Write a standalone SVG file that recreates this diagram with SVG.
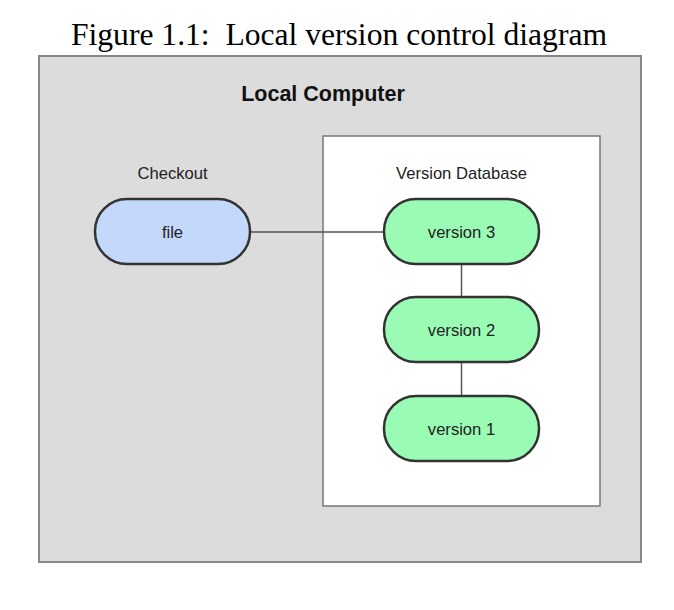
<svg xmlns="http://www.w3.org/2000/svg" width="674" height="610" viewBox="0 0 674 610">
<style>
.title{font-family:"Liberation Serif",serif;font-size:31.6px;fill:#000;text-anchor:middle;white-space:pre}
.lbl{font-family:"Liberation Sans",Arial,sans-serif;font-size:16.6px;fill:#222;text-anchor:middle}
.hdr{font-family:"Liberation Sans",Arial,sans-serif;font-size:21.5px;font-weight:bold;fill:#111;text-anchor:middle}
.node{stroke:#333;stroke-width:2.5}
.blue{fill:#c4d8fc}
.green{fill:#9afcb4}
.conn{stroke:#555;stroke-width:1.5;fill:none}
</style>
<rect width="674" height="610" fill="#fff"/>
<text class="title" x="339" y="45" xml:space="preserve">Figure 1.1:  Local version control diagram</text>
<g id="local-computer">
<rect x="39" y="56" width="602" height="506" fill="#dcdcdc" stroke="#888" stroke-width="2"/>
<text class="hdr" x="323" y="101">Local Computer</text>
</g>
<g id="version-database">
<rect x="323" y="136" width="277" height="370" fill="#fff" stroke="#777" stroke-width="1.5"/>
<text class="lbl" x="461.5" y="179">Version Database</text>
</g>
<g id="connectors">
<line class="conn" x1="250" y1="232" x2="384" y2="232"/>
<line class="conn" x1="461.5" y1="264" x2="461.5" y2="297"/>
<line class="conn" x1="461.5" y1="362" x2="461.5" y2="396"/>
</g>
<g id="checkout">
<text class="lbl" x="172.5" y="179">Checkout</text>
</g>
<g id="file">
<rect class="node blue" x="95" y="199" width="155" height="65" rx="32" ry="32"/>
<text class="lbl" x="172.5" y="238">file</text>
</g>
<g id="version3">
<rect class="node green" x="384" y="199" width="155" height="65" rx="32" ry="32"/>
<text class="lbl" x="461.5" y="238">version 3</text>
</g>
<g id="version2">
<rect class="node green" x="384" y="297" width="155" height="65" rx="32" ry="32"/>
<text class="lbl" x="461.5" y="336">version 2</text>
</g>
<g id="version1">
<rect class="node green" x="384" y="396" width="155" height="65" rx="32" ry="32"/>
<text class="lbl" x="461.5" y="435">version 1</text>
</g>
</svg>
